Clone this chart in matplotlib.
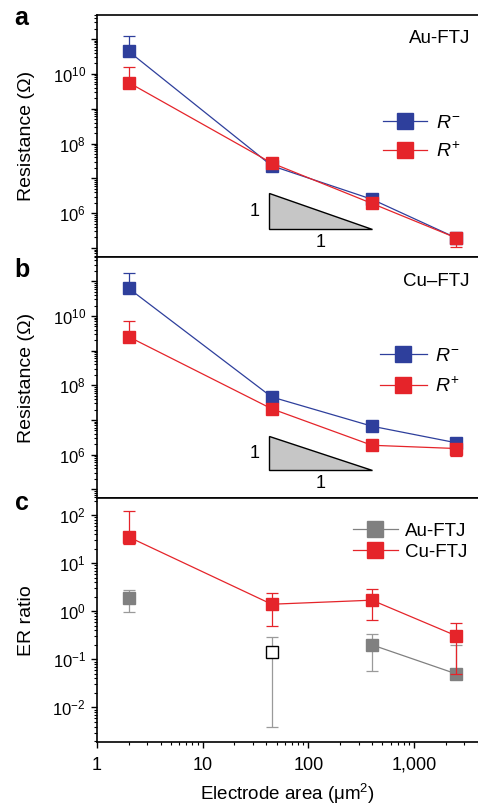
import numpy as np
import matplotlib
matplotlib.use("Agg")
import matplotlib.pyplot as plt
from matplotlib.ticker import FixedLocator, FixedFormatter, LogLocator, NullFormatter

plt.rcParams['font.family'] = ['Liberation Sans', 'DejaVu Sans']
plt.rcParams['mathtext.fontset'] = 'custom'
plt.rcParams['mathtext.rm'] = 'Liberation Sans'
plt.rcParams['mathtext.it'] = 'Liberation Sans:italic'
plt.rcParams['mathtext.default'] = 'regular'

## data
area = [2, 45, 400, 2500]

au_rminus = [4.4e10, 2.3e7, 2.5e6, 1.95e5]
au_rminus_up = [8.2e10, 0, 0, 0]
au_rminus_lo = [0, 0, 0, 0]
au_rplus = [5.6e9, 2.75e7, 1.9e6, 1.95e5]
au_rplus_up = [1.06e10, 0, 0, 0]
au_rplus_lo = [0, 0, 0, 0.88e5]

cu_rminus = [6.2e10, 4.6e7, 6.6e6, 2.2e6]
cu_rminus_up = [1.08e11, 0, 0, 0]
cu_rminus_lo = [0, 0, 0, 0]
cu_rplus = [2.5e9, 2.1e7, 1.86e6, 1.5e6]
cu_rplus_up = [4.7e9, 0, 0, 0]
cu_rplus_lo = [0, 0, 0, 0.6e6]

er_cu = [35, 1.4, 1.7, 0.31]
er_cu_up = [88, 0.95, 1.2, 0.25]
er_cu_lo = [10, 0.91, 1.05, 0.26]

er_au = [1.9, 0.14, 0.2, 0.05]
er_au_up = [0.9, 0.15, 0.14, 0.15]
er_au_lo = [0.95, 0.136, 0.142, 0.0]
au_open = [False, True, False, False]

xtick_vals = [1, 10, 100, 1000]
xtick_labels = ["1", "10", "100", "1,000"]

# slope triangle (log-log guide), x and y corners
tri_x = [42.6, 42.6, 400]
tri_y = [10**6.57, 10**5.54, 10**5.54]
tri_y_b = [10**6.53, 10**5.55, 10**5.55]

BLUE = "#2e3f9c"
RED = "#e5242a"
GRAY = "#808080"

W, H = 478, 809
fig = plt.figure(figsize=(W / 100, H / 100), dpi=100)

left = 97 / W
width = 1 - left
ax_a = fig.add_axes([left, 1 - 257 / H, width, (257 - 14.7) / H])
ax_b = fig.add_axes([left, 1 - 498.3 / H, width, (498.3 - 257) / H])
ax_c = fig.add_axes([left, 1 - 742 / H, width, (742 - 498.3) / H])

xmax = 10 ** ((478 - 98.3) / 105.3)

for ax in (ax_a, ax_b, ax_c):
    ax.set_xscale('log')
    ax.set_yscale('log')
    ax.set_xlim(1, xmax)
    ax.spines['right'].set_visible(False)
    for s in ('left', 'top', 'bottom'):
        ax.spines[s].set_linewidth(1.2)
    ax.tick_params(which='major', direction='out', length=4.5, width=1.0, labelsize=12)
    ax.tick_params(axis='x', which='major', labelsize=13, pad=6)
    ax.tick_params(which='minor', direction='out', length=2.5, width=0.8)
    ax.xaxis.set_major_locator(FixedLocator(xtick_vals))
    ax.xaxis.set_major_formatter(FixedFormatter(xtick_labels))
    ax.xaxis.set_minor_locator(LogLocator(base=10, subs=np.arange(2, 10), numticks=20))
    ax.xaxis.set_minor_formatter(NullFormatter())
    ax.yaxis.set_minor_locator(LogLocator(base=10, subs=np.arange(2, 10), numticks=30))
    ax.yaxis.set_minor_formatter(NullFormatter())
    ax.yaxis.set_label_coords(-0.162, 0.5)

for ax in (ax_a, ax_b):
    ax.tick_params(axis='x', labelbottom=False)

mk = dict(marker='s', markersize=9, linewidth=0.9)
eb = dict(fmt='none', capsize=4, elinewidth=0.9, capthick=0.9)


def err(ax, x, y, lo, up, color, z):
    # only draw the bars that were visible
    x, y, lo, up = map(np.asarray, (x, y, lo, up))
    keep = (lo + up) > 0
    ax.errorbar(x[keep], y[keep], yerr=[lo[keep], up[keep]], ecolor=color, zorder=z, **eb)


def res_panel(ax, rminus, rm_lo, rm_up, rplus, rp_lo, rp_up, tri_yy, label):
    ax.set_ylim(10 ** 4.74, 10 ** 11.7)
    exps = list(range(5, 12))
    ax.yaxis.set_major_locator(FixedLocator([10.0 ** e for e in exps]))
    ax.yaxis.set_major_formatter(FixedFormatter(
        [r'$10^{%d}$' % e if e % 2 == 0 else '' for e in exps]))
    ax.fill(tri_x, tri_yy, facecolor="#c6c6c6", edgecolor='black', linewidth=1.0, zorder=1)
    ax.text(tri_x[0] * 0.82, np.sqrt(tri_yy[0] * tri_yy[1]), "1", ha='right', va='center', fontsize=13)
    ax.text(np.sqrt(tri_x[0] * tri_x[2]), tri_yy[1] * 0.42, "1", ha='center', va='center', fontsize=13)
    err(ax, area, rminus, rm_lo, rm_up, BLUE, 3)
    ax.plot(area, rminus, color=BLUE, mfc=BLUE, mec=BLUE, label=r'$\mathit{R}^{-}$', zorder=3, **mk)
    err(ax, area, rplus, rp_lo, rp_up, RED, 4)
    ax.plot(area, rplus, color=RED, mfc=RED, mec=RED, label=r'$\mathit{R}^{+}$', zorder=4, **mk)
    ax.set_ylabel("Resistance (\u03a9)", fontsize=14)
    ax.text(0.979, 0.9, label, transform=ax.transAxes, ha='right', va='center', fontsize=13.5)


res_panel(ax_a, au_rminus, au_rminus_lo, au_rminus_up, au_rplus, au_rplus_lo, au_rplus_up,
          tri_y, "Au-FTJ")
res_panel(ax_b, cu_rminus, cu_rminus_lo, cu_rminus_up, cu_rplus, cu_rplus_lo, cu_rplus_up,
          tri_y_b, "Cu\u2013FTJ")

ax_a.legend(loc='center left', bbox_to_anchor=((383 - 97) / 381, 0.492), frameon=False,
            fontsize=14, handlelength=2.25, handletextpad=0.45, labelspacing=0.5,
            markerscale=1.35, borderpad=0, borderaxespad=0)
ax_b.legend(loc='center left', bbox_to_anchor=((380 - 97) / 381, 0.525), frameon=False,
            fontsize=14, handlelength=2.4, handletextpad=0.45, labelspacing=0.6,
            markerscale=1.35, borderpad=0, borderaxespad=0)

# panel c: ER ratio
ax_c.set_ylim(10 ** -2.72, 10 ** 2.35)
c_exps = [-2, -1, 0, 1, 2]
ax_c.yaxis.set_major_locator(FixedLocator([10.0 ** e for e in c_exps]))
ax_c.yaxis.set_major_formatter(FixedFormatter([r'$10^{%d}$' % e for e in c_exps]))

# Au-FTJ points: error bars, only the last two are joined
err(ax_c, area, er_au, er_au_lo, er_au_up, "#9a9a9a", 2)
ax_c.plot(area[2:], er_au[2:], color=GRAY, linewidth=0.9, zorder=2)
for xv, yv, op in zip(area, er_au, au_open):
    if op:
        ax_c.plot(xv, yv, 's', markersize=8.5, mfc='white', mec='black', mew=1.0, zorder=3)
    else:
        ax_c.plot(xv, yv, 's', markersize=9, mfc=GRAY, mec=GRAY, zorder=3)
ax_c.plot([], [], color=GRAY, mfc=GRAY, mec=GRAY, label="Au-FTJ", **mk)

err(ax_c, area, er_cu, er_cu_lo, er_cu_up, RED, 4)
ax_c.plot(area, er_cu, color=RED, mfc=RED, mec=RED, label="Cu-FTJ", zorder=4, **mk)
ax_c.set_ylabel("ER ratio", fontsize=14)
ax_c.set_xlabel("Electrode area (\u03bcm$^2$)", fontsize=13.5, labelpad=6)
ax_c.legend(loc='center left', bbox_to_anchor=((352.7 - 97) / 381, 0.822), frameon=False,
            fontsize=13.5, handlelength=2.4, handletextpad=0.4, labelspacing=0.2,
            markerscale=1.25, borderpad=0, borderaxespad=0)

# panel letters (baseline positions)
for ax, letter, yb in ((ax_a, "a", 1 - 10.3 / 242.3),
                       (ax_b, "b", 1 - 20 / 241.3),
                       (ax_c, "c", 1 - 11.7 / 243.7)):
    ax.text(-0.198, yb, letter, transform=ax.transAxes, fontsize=18, fontweight='bold',
            ha='center', va='baseline')

fig.savefig("out.png", dpi=100)
